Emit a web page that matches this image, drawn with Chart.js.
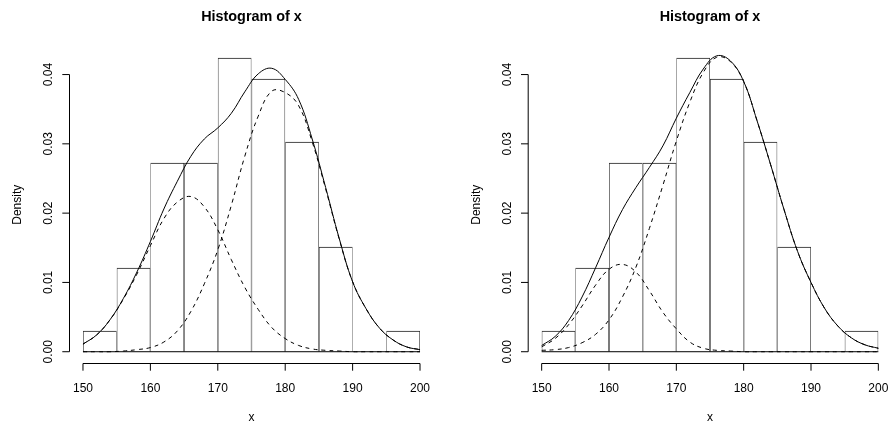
<!DOCTYPE html>
<html>
<head>
<meta charset="utf-8">
<script src="https://cdn.jsdelivr.net/npm/chart.js@4"></script>
<style>
  html, body { margin: 0; padding: 0; background: #ffffff; }
  #wrap { position: relative; width: 892px; height: 429px; background: #ffffff; }
  canvas { position: absolute; top: 0; }
</style>
</head>
<body>
<div id="wrap">
  <canvas id="c1" width="446" height="429" style="left:0px"></canvas>
  <canvas id="c2" width="446" height="429" style="left:446px"></canvas>
</div>
<script>
// ---------------- data ----------------
const chartTitle = "Histogram of x";
const xLabel = "x";
const yLabel = "Density";

const binEdges = [150, 155, 160, 165, 170, 175, 180, 185, 190, 195, 200];
const binDensity = [0.00303, 0.01212, 0.02727, 0.02727, 0.04242, 0.03939, 0.03030, 0.01515, 0, 0.00303];

const xTicks = [150, 160, 170, 180, 190, 200];
const yTicks = [0, 0.01, 0.02, 0.03, 0.04];
const yTickLabels = ["0.00", "0.01", "0.02", "0.03", "0.04"];

const xGrid = [150, 152, 154, 156, 158, 160, 162, 164, 166, 168, 170, 172, 174,
               176, 178, 180, 182, 184, 186, 188, 190, 192, 194, 196, 198, 200];

// left panel: mixture density (solid) and its two components (dashed)
const leftTotal = [0.0011, 0.0024, 0.0046, 0.0077, 0.0115, 0.0159, 0.0206, 0.0246, 0.0282, 0.0307, 0.0323, 0.0344, 0.0375,
                   0.0401, 0.0409, 0.0393, 0.0364, 0.0307, 0.0237, 0.0164, 0.0101, 0.0062, 0.0034, 0.0017, 0.0007, 0.0003];
const leftComp1 = [0.0011, 0.0024, 0.0046, 0.0076, 0.0112, 0.0153, 0.0192, 0.0216, 0.0224, 0.0209, 0.0176, 0.0133, 0.0093,
                   0.0061, 0.0035, 0.0019, 0.0009, 0.0004, 0.0002, 0.0001, 0, 0, 0, 0, 0, 0];
const leftComp2 = [0, 0, 0, 0.0001, 0.0003, 0.0006, 0.0014, 0.0030, 0.0058, 0.0098, 0.0147, 0.0211, 0.0282,
                   0.0340, 0.0376, 0.0374, 0.0355, 0.0303, 0.0235, 0.0163, 0.0101, 0.0062, 0.0034, 0.0017, 0.0007, 0.0003];

// right panel
const rightTotal = [0.0009, 0.0022, 0.0045, 0.0079, 0.0121, 0.0165, 0.0205, 0.0237, 0.0266, 0.0297, 0.0337, 0.0374, 0.0408,
                    0.0427, 0.0420, 0.0390, 0.0333, 0.0270, 0.0205, 0.0145, 0.0100, 0.0063, 0.0037, 0.0020, 0.0010, 0.0005];
const rightComp1 = [0.0007, 0.0019, 0.0039, 0.0066, 0.0096, 0.0119, 0.0126, 0.0115, 0.0088, 0.0057, 0.0033, 0.0014, 0.0005,
                    0.0002, 0.0001, 0, 0, 0, 0, 0, 0, 0, 0, 0, 0, 0];
const rightComp2 = [0.0002, 0.0003, 0.0006, 0.0013, 0.0025, 0.0046, 0.0079, 0.0122, 0.0178, 0.0240, 0.0304, 0.0360, 0.0403,
                    0.0425, 0.0419, 0.0390, 0.0333, 0.0270, 0.0205, 0.0145, 0.0100, 0.0063, 0.0037, 0.0020, 0.0010, 0.0005];

// ---------------- drawing ----------------
const FONT = "'Liberation Sans', Arial, Helvetica, sans-serif";

const rStyleAxes = {
  id: 'rStyleAxes',
  afterDraw(chart) {
    const { ctx, chartArea, scales: { x, y } } = chart;
    ctx.save();
    ctx.strokeStyle = '#000';
    ctx.fillStyle = '#000';
    ctx.lineWidth = 1;

    // histogram baseline (bottom of all bins)
    const y0 = y.getPixelForValue(0);
    ctx.beginPath();
    ctx.moveTo(x.getPixelForValue(binEdges[0]), y0);
    ctx.lineTo(x.getPixelForValue(binEdges[binEdges.length - 1]), y0);
    ctx.stroke();

    // x axis
    const ab = chartArea.bottom;
    ctx.beginPath();
    ctx.moveTo(x.getPixelForValue(xTicks[0]), ab);
    ctx.lineTo(x.getPixelForValue(xTicks[xTicks.length - 1]), ab);
    xTicks.forEach(v => {
      const px = x.getPixelForValue(v);
      ctx.moveTo(px, ab);
      ctx.lineTo(px, ab + 7.2);
    });
    ctx.stroke();
    ctx.font = '12px ' + FONT;
    ctx.textAlign = 'center';
    ctx.textBaseline = 'alphabetic';
    xTicks.forEach(v => ctx.fillText(String(v), x.getPixelForValue(v), ab + 28.5));
    ctx.fillText(xLabel, (chartArea.left + chartArea.right) / 2, ab + 57.5);

    // y axis
    const al = chartArea.left;
    ctx.beginPath();
    ctx.moveTo(al, y.getPixelForValue(yTicks[0]));
    ctx.lineTo(al, y.getPixelForValue(yTicks[yTicks.length - 1]));
    yTicks.forEach(v => {
      const py = y.getPixelForValue(v);
      ctx.moveTo(al, py);
      ctx.lineTo(al - 7.2, py);
    });
    ctx.stroke();
    yTicks.forEach((v, i) => {
      ctx.save();
      ctx.translate(al - 17.5, y.getPixelForValue(v));
      ctx.rotate(-Math.PI / 2);
      ctx.fillText(yTickLabels[i], 0, 0);
      ctx.restore();
    });
    ctx.save();
    ctx.translate(al - 48.5, (chartArea.top + chartArea.bottom) / 2);
    ctx.rotate(-Math.PI / 2);
    ctx.fillText(yLabel, 0, 0);
    ctx.restore();

    // title
    ctx.font = 'bold 14.4px ' + FONT;
    ctx.fillText(chartTitle, (chartArea.left + chartArea.right) / 2, chartArea.top - 25.5);
    ctx.restore();
  }
};

function makeChart(canvasId, total, comp1, comp2, padding) {
  const bars = binDensity.map((d, i) => ({ x: (binEdges[i] + binEdges[i + 1]) / 2, y: d }));
  const pts = arr => xGrid.map((v, i) => ({ x: v, y: arr[i] }));
  const lineDs = (arr, dash) => ({
    type: 'line',
    data: pts(arr),
    borderColor: '#000',
    borderWidth: 1,
    borderDash: dash,
    pointRadius: 0,
    tension: 0.4,
    fill: false,
    order: 0
  });
  return new Chart(document.getElementById(canvasId), {
    data: {
      datasets: [
        lineDs(total, []),
        lineDs(comp1, [4, 4]),
        lineDs(comp2, [4, 4]),
        {
          type: 'bar',
          data: bars,
          backgroundColor: 'rgba(255,255,255,0)',
          borderColor: '#222',
          borderWidth: { top: 1, left: 0.6, right: 0.6, bottom: 0 },
          borderSkipped: false,
          inflateAmount: 0,
          barPercentage: 1,
          categoryPercentage: 1,
          order: 2
        }
      ]
    },
    options: {
      responsive: false,
      animation: false,
      events: [],
      layout: { padding: padding },
      plugins: { legend: { display: false }, tooltip: { enabled: false }, title: { display: false } },
      scales: {
        x: {
          type: 'linear', min: 148, max: 202, display: false, offset: false,
          afterBuildTicks: s => { s.ticks = binEdges.map(v => ({ value: v })); }
        },
        y: { type: 'linear', min: -0.0017, max: 0.04412, display: false }
      }
    },
    plugins: [rStyleAxes]
  });
}

makeChart('c1', leftTotal, leftComp1, leftComp2, { left: 69.5, right: 12.5, top: 46, bottom: 65.5 });
makeChart('c2', rightTotal, rightComp1, rightComp2, { left: 82.2, right: 0.2, top: 46, bottom: 65.5 });
</script>
</body>
</html>
